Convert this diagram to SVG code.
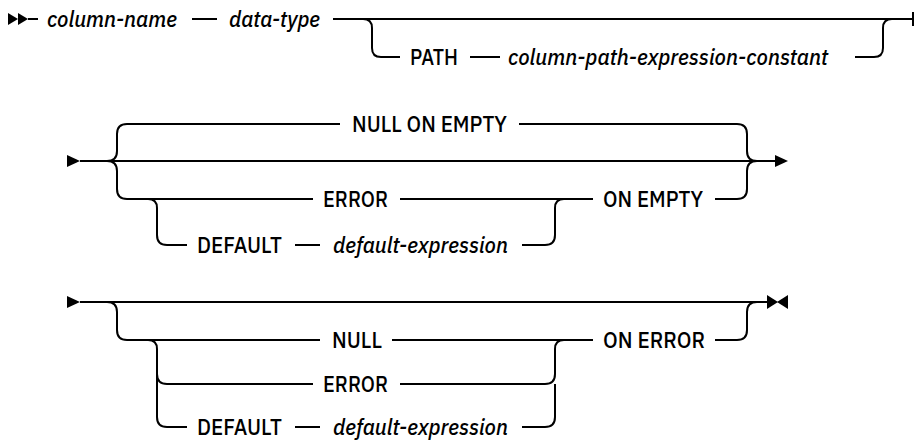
<svg xmlns="http://www.w3.org/2000/svg" width="915" height="440" viewBox="0 0 915 440">
<style>
.t{font-family:"IBM Plex Sans",Roboto,"Liberation Sans",sans-serif;font-size:22px;font-weight:500;fill:#000}
.v{font-style:italic}
.c{fill:none;stroke:#000;stroke-width:2}
.m{fill:#000;stroke:none}
</style>
<rect width="915" height="440" fill="#fff"/>
<g id="connectors">
<!-- row 1 -->
<polygon class="m" points="8,13 18,19 8,25"/>
<polygon class="m" points="18,13 28,19 18,25"/>
<path class="c" d="M28 19H38"/>
<path class="c" d="M192 19H217"/>
<path class="c" d="M333 19H913"/>
<path class="c" d="M913 12V26"/>
<path class="c" d="M363 19Q372 19 372 28V48Q372 57 381 57H400"/>
<path class="c" d="M470 57H500"/>
<path class="c" d="M855 57H874Q883 57 883 48V28Q883 19 892 19"/>
<!-- row 2 -->
<polygon class="m" points="67,155 80,161 67,167"/>
<path class="c" d="M80 161H776"/>
<polygon class="m" points="775,155 788,161 775,167"/>
<path class="c" d="M107 161Q117 161 117 151V134Q117 124 127 124H340"/>
<path class="c" d="M107 161Q117 161 117 171V189Q117 199 127 199H313"/>
<path class="c" d="M519 124H737Q747 124 747 134V151Q747 161 757 161"/>
<path class="c" d="M400 199H593"/>
<path class="c" d="M715 199H737Q747 199 747 189V171Q747 161 757 161"/>
<path class="c" d="M148 199Q157 199 157 208V235Q157 245 167 245H187"/>
<path class="c" d="M295 245H320"/>
<path class="c" d="M522 245H545Q555 245 555 235V208Q555 199 564 199"/>
<!-- row 3 -->
<polygon class="m" points="67,296 80,302 67,308"/>
<path class="c" d="M80 302H768"/>
<polygon class="m" points="767,295 778,302 767,309"/>
<polygon class="m" points="788,295 777,302 788,309"/>
<path class="c" d="M107 302Q117 302 117 312V330Q117 340 127 340H320"/>
<path class="c" d="M392 340H593"/>
<path class="c" d="M715 340H737Q747 340 747 330V312Q747 302 757 302"/>
<path class="c" d="M148 340Q157 340 157 349V374Q157 384 167 384H313"/>
<path class="c" d="M157 374V417Q157 427 167 427H187"/>
<path class="c" d="M400 384H545Q555 384 555 374V349Q555 340 564 340"/>
<path class="c" d="M295 427H320"/>
<path class="c" d="M522 427H545Q555 427 555 417V384"/>
</g>
<g id="column-name"><text class="t v" x="47" y="27" textLength="130" lengthAdjust="spacingAndGlyphs">column-name</text></g>
<g id="data-type"><text class="t v" x="229" y="27" textLength="91" lengthAdjust="spacingAndGlyphs">data-type</text></g>
<g id="path-kw"><text class="t" x="410" y="65" textLength="48" lengthAdjust="spacingAndGlyphs">PATH</text></g>
<g id="path-const"><text class="t v" x="508" y="65" textLength="320" lengthAdjust="spacingAndGlyphs">column-path-expression-constant</text></g>
<g id="null-on-empty"><text class="t" x="352" y="132" textLength="155" lengthAdjust="spacingAndGlyphs">NULL ON EMPTY</text></g>
<g id="error-empty"><text class="t" x="323" y="207" textLength="65" lengthAdjust="spacingAndGlyphs">ERROR</text></g>
<g id="on-empty"><text class="t" x="603" y="207" textLength="100" lengthAdjust="spacingAndGlyphs">ON EMPTY</text></g>
<g id="default-empty"><text class="t" x="197" y="253" textLength="85" lengthAdjust="spacingAndGlyphs">DEFAULT</text></g>
<g id="default-expr-empty"><text class="t v" x="333" y="253" textLength="175" lengthAdjust="spacingAndGlyphs">default-expression</text></g>
<g id="null-error"><text class="t" x="332" y="348" textLength="50" lengthAdjust="spacingAndGlyphs">NULL</text></g>
<g id="on-error"><text class="t" x="603" y="348" textLength="102" lengthAdjust="spacingAndGlyphs">ON ERROR</text></g>
<g id="error-error"><text class="t" x="323" y="392" textLength="65" lengthAdjust="spacingAndGlyphs">ERROR</text></g>
<g id="default-error"><text class="t" x="197" y="435" textLength="85" lengthAdjust="spacingAndGlyphs">DEFAULT</text></g>
<g id="default-expr-error"><text class="t v" x="333" y="435" textLength="175" lengthAdjust="spacingAndGlyphs">default-expression</text></g>
</svg>
